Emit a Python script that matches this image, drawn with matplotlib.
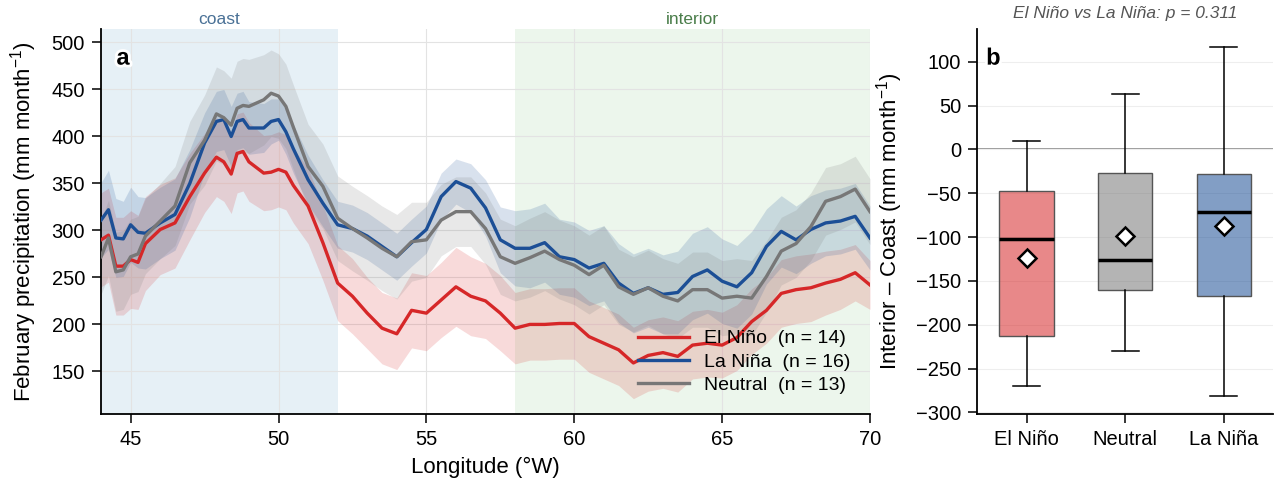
import numpy as np
import matplotlib
matplotlib.use('Agg')
import matplotlib.pyplot as plt
import matplotlib.patheffects as pe

plt.rcParams['font.family'] = ['Liberation Sans', 'DejaVu Sans']
plt.rcParams['mathtext.fontset'] = 'custom'
plt.rcParams['mathtext.rm'] = 'Liberation Sans'
plt.rcParams['mathtext.it'] = 'Liberation Sans:italic'

# ---- panel a data: precipitation along longitude (deg W) ----
lon = [44.0, 44.25, 44.5, 44.75, 45.0, 45.25, 45.5, 46.0, 46.5, 47.0, 47.5, 47.9, 48.15, 48.4,
       48.6, 48.8, 49.0, 49.5, 49.75, 50.0, 50.25, 50.5, 51.0, 51.5, 52.0, 52.5, 53.0, 53.5,
       54.0, 54.5, 55.0, 55.5, 56.0, 56.5, 57.0, 57.5, 58.0, 58.5, 59.0, 59.5, 60.0, 60.5,
       61.0, 61.5, 62.0, 62.5, 63.0, 63.5, 64.0, 64.5, 65.0, 65.5, 66.0, 66.5, 67.0, 67.5,
       68.0, 68.5, 69.0, 69.5, 70.0]

el_nino = [290, 295, 262, 262, 269, 266, 286, 301, 308, 336, 361, 378, 373, 360,
           382, 384, 373, 361, 362, 365, 362, 348, 326, 287, 244, 230, 212, 196,
           190, 215, 212, 226, 240, 230, 225, 212, 196, 200, 200, 201, 201, 187,
           180, 173, 159, 167, 170, 166, 178, 180, 178, 186, 203, 215, 233, 237,
           239, 244, 248, 255, 242]
la_nina = [311, 322, 292, 291, 306, 298, 297, 308, 317, 350, 393, 416, 418, 400,
           416, 418, 409, 409, 416, 418, 405, 387, 354, 329, 306, 302, 294, 283,
           272, 287, 301, 336, 352, 345, 324, 290, 281, 281, 287, 272, 269, 260,
           265, 244, 233, 239, 232, 234, 251, 258, 246, 240, 255, 283, 299, 290,
           301, 308, 310, 315, 292]
neutral = [272, 292, 256, 258, 272, 275, 294, 310, 326, 372, 396, 424, 420, 412,
           430, 433, 432, 439, 446, 443, 432, 410, 368, 347, 313, 302, 292, 281,
           272, 288, 290, 311, 320, 320, 302, 272, 265, 271, 278, 269, 263, 253,
           263, 240, 232, 239, 230, 225, 237, 237, 228, 230, 228, 251, 278, 286,
           304, 331, 336, 344, 320]

# half-width of the shaded spread around each mean
el_nino_spread = [50, 50, 52, 52, 52, 50, 50, 48, 48, 46, 42, 42, 42, 42,
                  42, 42, 42, 40, 40, 40, 40, 40, 40, 40, 40, 40, 38, 38,
                  38, 40, 40, 40, 42, 42, 40, 40, 38, 38, 38, 38, 38, 38,
                  38, 38, 38, 38, 38, 38, 36, 36, 35, 35, 35, 35, 36, 36,
                  36, 34, 32, 30, 26]
la_nina_spread = [40, 42, 42, 40, 40, 38, 38, 38, 38, 36, 32, 32, 32, 32,
                  30, 30, 28, 26, 24, 22, 24, 26, 26, 25, 25, 25, 25, 25,
                  25, 25, 25, 25, 24, 26, 30, 35, 40, 42, 42, 40, 40, 40,
                  40, 42, 42, 42, 42, 44, 46, 46, 45, 44, 44, 40, 38, 36,
                  36, 35, 35, 35, 34]
neutral_spread = [40, 40, 42, 42, 40, 40, 40, 40, 42, 44, 48, 50, 50, 50,
                  50, 50, 50, 48, 46, 45, 45, 45, 45, 45, 45, 45, 45, 45,
                  45, 42, 40, 38, 37, 37, 38, 40, 40, 42, 42, 42, 42, 42,
                  42, 40, 40, 40, 40, 40, 40, 40, 40, 40, 40, 38, 36, 36,
                  36, 36, 35, 35, 35]

series = [('El Niño', 14, el_nino, el_nino_spread, '#d62728'),
          ('La Niña', 16, la_nina, la_nina_spread, '#1c4f96'),
          ('Neutral', 13, neutral, neutral_spread, '#777777')]

# ---- panel b data: interior - coast difference ----
groups = ['El Niño', 'Neutral', 'La Niña']
group_colors = ['#d62728', '#777777', '#1c4f96']
whis_lo = [-270, -230, -281]
q1 = [-213, -160, -167]
medians = [-102, -126, -71]
q3 = [-47, -27, -28]
whis_hi = [10, 63, 117]
means = [-124, -99, -87]
p_value = 0.311

fig = plt.figure(figsize=(12.76, 4.87), dpi=100)
ax = fig.add_axes([0.0792, 0.1505, 0.6026, 0.7893])
axb = fig.add_axes([0.7659, 0.1495, 0.2317, 0.7903])

# panel a
ax.axvspan(44, 52, color='#1f77b4', alpha=0.11, lw=0, zorder=0)
ax.axvspan(58, 70, color='#2ca02c', alpha=0.085, lw=0, zorder=0)
ax.text(48, 1.005, 'coast', transform=ax.get_xaxis_transform(), ha='center', va='bottom',
        fontsize=12.5, color='#4a7196')
ax.text(64, 1.005, 'interior', transform=ax.get_xaxis_transform(), ha='center', va='bottom',
        fontsize=12.5, color='#4a7d4a')

x = np.array(lon)
for name, n, vals, spread, col in series:
    v = np.array(vals, dtype=float)
    s = np.array(spread, dtype=float)
    ax.fill_between(x, v - s, v + s, color=col, alpha=0.17, lw=0, zorder=2)
for name, n, vals, spread, col in series:
    ax.plot(x, vals, color=col, lw=2.4, zorder=3, label=f'{name}  (n = {n})')

ax.set_xlim(44, 70)
ax.set_ylim(105, 514)
ax.set_xticks([45, 50, 55, 60, 65, 70])
ax.set_yticks([150, 200, 250, 300, 350, 400, 450, 500])
ax.grid(True, color='#e3e3e3', lw=0.8)
ax.set_xlabel('Longitude (°W)', fontsize=16, labelpad=6)
ax.set_ylabel('February precipitation (mm month$^{-1}$)', fontsize=16, labelpad=9)
ax.legend(loc='lower right', frameon=False, fontsize=14, handlelength=2.6,
          labelspacing=0.3, borderaxespad=0.6)
ax.text(0.02, 0.955, 'a', transform=ax.transAxes, fontsize=17, fontweight='bold', va='top',
        path_effects=[pe.withStroke(linewidth=4, foreground='white')], zorder=5)

# panel b
stats = []
for i in range(len(groups)):
    stats.append({'label': groups[i], 'whislo': whis_lo[i], 'q1': q1[i], 'med': medians[i],
                  'q3': q3[i], 'whishi': whis_hi[i], 'mean': means[i], 'fliers': []})
bp = axb.bxp(stats, positions=[1, 2, 3], widths=0.55, patch_artist=True, showmeans=True,
             meanprops=dict(marker='D', markerfacecolor='white', markeredgecolor='black',
                            markersize=9, markeredgewidth=1.8),
             medianprops=dict(color='black', lw=2.5),
             whiskerprops=dict(color='black', lw=1.1),
             capprops=dict(color='black', lw=1.1),
             boxprops=dict(lw=1.0))
for patch, col in zip(bp['boxes'], group_colors):
    patch.set_facecolor(matplotlib.colors.to_rgba(col, 0.55))
    patch.set_edgecolor('#555555')

axb.axhline(0, color='#808080', lw=1.1, zorder=0)
axb.set_xlim(0.5, 3.5)
axb.set_ylim(-302, 137)
axb.set_yticks([100, 50, 0, -50, -100, -150, -200, -250, -300])
axb.yaxis.grid(True, color='#eeeeee', lw=0.8)
axb.set_axisbelow(True)
axb.set_ylabel('Interior – Coast (mm month$^{-1}$)', fontsize=16, labelpad=8)
axb.set_title(f'El Niño vs La Niña: p = {p_value:.3f}', fontsize=12.5, style='italic',
              color='#555555', pad=8)
axb.text(0.03, 0.955, 'b', transform=axb.transAxes, fontsize=17, fontweight='bold', va='top',
         path_effects=[pe.withStroke(linewidth=4, foreground='white')], zorder=5)

for a in (ax, axb):
    a.spines['top'].set_visible(False)
    a.spines['right'].set_visible(False)
    a.spines['left'].set_linewidth(1.3)
    a.spines['bottom'].set_linewidth(1.3)
    a.tick_params(labelsize=14.5, length=6.5, width=1.1, pad=5)

fig.savefig('out.png', dpi=100)
